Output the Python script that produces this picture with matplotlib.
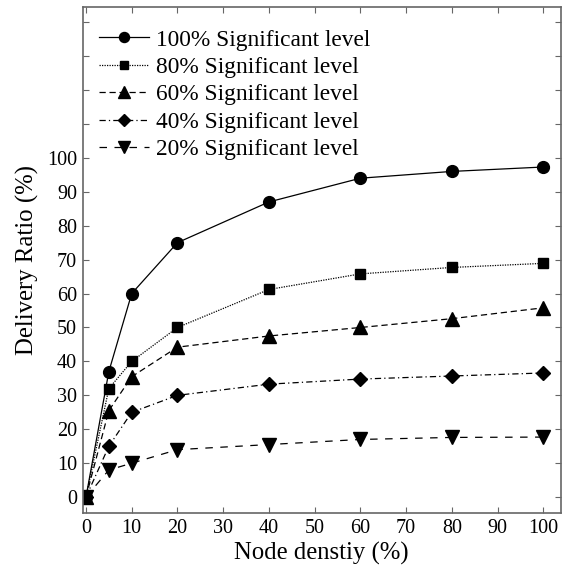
import matplotlib
matplotlib.use("Agg")
import matplotlib.pyplot as plt

plt.rcParams['font.family'] = ['Liberation Serif', 'DejaVu Serif']

node_density = [0, 5, 10, 20, 40, 60, 80, 100]
s100 = [0, 37, 60, 75, 87, 94, 96, 97.3]
s80 = [0, 32, 40, 50, 61.2, 65.8, 67.7, 68.9]
s60 = [0, 25.5, 35.5, 44.2, 47.5, 50, 52.6, 55.8]
s40 = [0, 15, 25, 30, 33.3, 34.8, 35.7, 36.6]
s20 = [0, 8, 10, 14, 15.5, 17, 17.6, 17.7]
labels = ["100% Significant level", "80% Significant level", "60% Significant level",
          "40% Significant level", "20% Significant level"]
x_ticks = list(range(0, 101, 10))
y_ticks = list(range(0, 141, 10))

fig = plt.figure(figsize=(5.63, 5.72), dpi=100)
ax = fig.add_axes([0.147, 0.103, 0.849, 0.885])

styles = [
    dict(linestyle='-', marker='o', ms=8.5),
    dict(linestyle=(0, (1, 1)), marker='s', ms=7.5),
    dict(linestyle=(0, (5, 3)), marker='^', ms=9.5),
    dict(linestyle=(0, (5, 2.5, 1, 2.5)), marker='D', ms=7),
    dict(linestyle=(0, (6, 6)), marker='v', ms=9.5),
]
for ys, lab, st in zip([s100, s80, s60, s40, s20], labels, styles):
    ax.plot(node_density, ys, color='black', lw=0.9, label=lab,
            markerfacecolor='black', markeredgecolor='black', **st)

ax.set_xlim(-0.7, 103.8)
ax.set_ylim(-4.7, 144.5)
ax.set_xticks(x_ticks)
ax.set_xticklabels([str(t) for t in x_ticks])
ax.set_yticks(y_ticks)
ax.set_yticklabels([str(t) if t <= 100 else '' for t in y_ticks])
ax.tick_params(direction='in', top=True, right=True, length=4, width=0.8,
               color='#666666', labelsize=14.5, pad=4)
for sp in ax.spines.values():
    sp.set_color('#666666')
    sp.set_linewidth(1.2)

ax.set_xlabel('Node denstiy (%)', fontsize=17.8, labelpad=3)
ax.set_ylabel('Delivery Ratio (%)', fontsize=17.8, labelpad=6)

leg = ax.legend(loc='upper left', bbox_to_anchor=(0.0, 0.988), frameon=False,
                fontsize=16.8, handlelength=2.15, handletextpad=0.3,
                labelspacing=0.26, borderaxespad=0.3, markerscale=0.85)

fig.savefig('out.png', dpi=100)
